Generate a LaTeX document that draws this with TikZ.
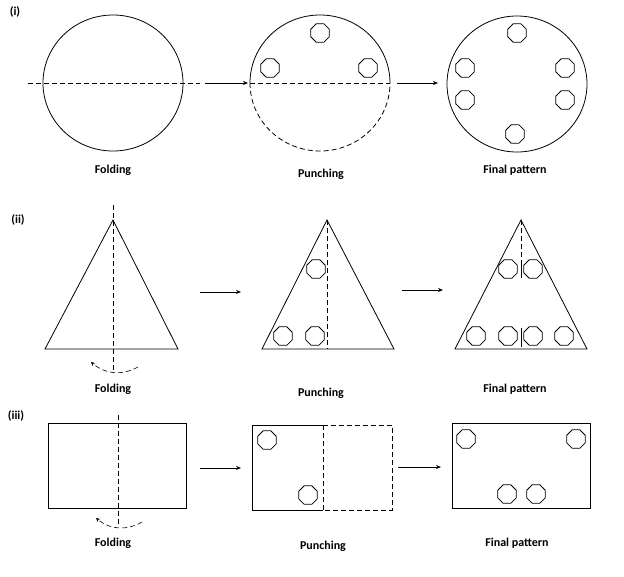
\documentclass[tikz,border=0pt]{standalone}
\usepackage{fontspec}
\setmainfont{Carlito}
\usetikzlibrary{shapes.geometric,arrows.meta}
\begin{document}
\begin{tikzpicture}[x=1pt,y=-1pt,line width=0.8pt,
  hole/.style={draw,regular polygon,regular polygon sides=8,minimum size=20pt,inner sep=0pt},
  lbl/.style={font=\bfseries\fontsize{12}{14}\selectfont},
  dsh/.style={dash pattern=on 5pt off 3pt},
  arr/.style={-{Stealth[length=5pt,width=4pt]},line width=0.7pt}]
\useasboundingbox (0,0) rectangle (624,576);
% ---------- (i)
\node[lbl] (l1) at (15,12) {(i)};
\draw (113,83) ellipse (70 and 68);
\draw[dsh] (28,83) -- (200,83);
\coordinate (a1s) at (205,83); \coordinate (a1e) at (248,83);
\draw[arr] (a1s) -- (a1e);
\draw[dsh] (250,83) arc[start angle=180,end angle=0,x radius=70,y radius=68];
\draw (250,83) arc[start angle=180,end angle=360,x radius=70,y radius=68];
\draw[dsh] (250,83) -- (390,83);
\node[hole] (p1) at (320,33) {};
\node[hole] (p2) at (270,68) {};
\node[hole] (p3) at (368,68) {};
\coordinate (a2s) at (397,83); \coordinate (a2e) at (438,83);
\draw[arr] (a2s) -- (a2e);
\draw (517,84) ellipse (70 and 68);
\node[hole] (f1) at (517,33) {};
\node[hole] (f2) at (465,68) {};
\node[hole] (f3) at (465,100) {};
\node[hole] (f4) at (565,68) {};
\node[hole] (f5) at (565,100) {};
\node[hole] (f6) at (515,134) {};
\node[lbl] (t1) at (113,170) {Folding};
\node[lbl] (t2) at (321,174) {Punching};
\node[lbl] (t3) at (515,170) {Final pattern};
% ---------- (ii)
\node[lbl] (l2) at (18,220) {(ii)};
\draw (113,220) -- (178,349) -- (45,349) -- cycle;
\draw[dsh] (113,205) -- (113,370);
\draw[dsh,-{Stealth[length=4pt,width=4pt]},line width=0.6pt] (138,367) to[bend left=35] (91,362);
\coordinate (b1s) at (200,292); \coordinate (b1e) at (241,292);
\draw[arr] (b1s) -- (b1e);
\draw (327,220) -- (394,349) -- (262,349) -- cycle;
\draw[dsh] (327,220) -- (327,349);
\node[hole] (q1) at (316,269) {};
\node[hole] (q2) at (283,336) {};
\node[hole] (q3) at (315,336) {};
\coordinate (b2s) at (402,290); \coordinate (b2e) at (443,290);
\draw[arr] (b2s) -- (b2e);
\draw (521,220) -- (587,349) -- (455,349) -- cycle;
\draw[dsh] (521,220) -- (521,262);
\draw (521,262) -- (521,278);
\draw (521,328) -- (521,347);
\node[hole] (g1) at (508,269) {};
\node[hole] (g2) at (533,269) {};
\node[hole] (g3) at (476,336) {};
\node[hole] (g4) at (508,336) {};
\node[hole] (g5) at (533,336) {};
\node[hole] (g6) at (564,336) {};
\node[lbl] (t4) at (113,389) {Folding};
\node[lbl] (t5) at (321,393) {Punching};
\node[lbl] (t6) at (515,389) {Final pattern};
% ---------- (iii)
\node[lbl] (l3) at (16,416) {(iii)};
\draw (48,423) rectangle (186,508);
\draw[dsh] (118,415) -- (118,525);
\draw[dsh,-{Stealth[length=4pt,width=4pt]},line width=0.6pt] (142,522) to[bend left=35] (96,518);
\coordinate (c1s) at (200,468); \coordinate (c1e) at (241,468);
\draw[arr] (c1s) -- (c1e);
\draw (323,425) -- (252,425) -- (252,510) -- (323,510);
\draw[dsh] (323,425) -- (392,425) -- (392,510) -- (323,510);
\draw[dsh] (323,425) -- (323,510);
\node[hole] (r1) at (267,440) {};
\node[hole] (r2) at (308,495) {};
\coordinate (c2s) at (398,467); \coordinate (c2e) at (441,467);
\draw[arr] (c2s) -- (c2e);
\draw (452,423) rectangle (590,508);
\node[hole] (h1) at (466,439) {};
\node[hole] (h2) at (576,439) {};
\node[hole] (h3) at (507,494) {};
\node[hole] (h4) at (536,494) {};
\node[lbl] (t7) at (113,543) {Folding};
\node[lbl] (t8) at (323,546) {Punching};
\node[lbl] (t9) at (517,543) {Final pattern};
\end{tikzpicture}
\end{document}
